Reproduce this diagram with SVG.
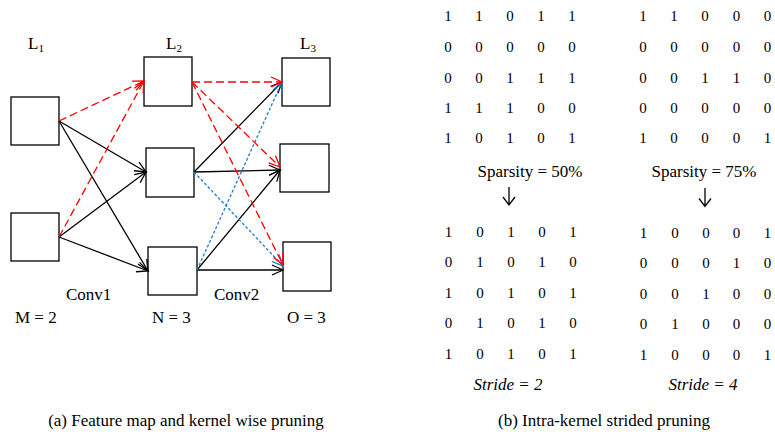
<svg xmlns="http://www.w3.org/2000/svg" width="775" height="435" viewBox="0 0 775 435" font-family="'Liberation Serif', 'DejaVu Serif', serif">
  <style>
    text { font-family: 'Liberation Serif', 'DejaVu Serif', serif; fill: #000; }
    .lbl { font-size: 17px; }
    .sub { font-size: 11px; }
    .num { font-size: 15px; text-anchor: middle; }
    .cap { font-size: 17px; text-anchor: middle; }
    .it { font-size: 17px; font-style: italic; text-anchor: middle; }
    .box { fill: #fff; stroke: #000; stroke-width: 1.3; }
    .solid { stroke: #000; stroke-width: 1.3; fill: none; marker-end: url(#headK); }
    .red { stroke: #ff0000; stroke-width: 1.3; fill: none; stroke-dasharray: 8 4; marker-end: url(#headR); }
    .blue { stroke: #1f7bd0; stroke-width: 1.3; fill: none; stroke-dasharray: 3 2; marker-end: url(#headB); }
    .down { stroke: #000; stroke-width: 1.3; fill: none; }
  </style>
  <defs>
    <marker id="headK" markerUnits="userSpaceOnUse" markerWidth="14" markerHeight="14" viewBox="-12 -7 14 14" refX="0" refY="0" orient="auto">
      <path d="M-11,-5 L0,0 L-11,5" fill="none" stroke="#000" stroke-width="1.3"/>
    </marker>
    <marker id="headR" markerUnits="userSpaceOnUse" markerWidth="14" markerHeight="14" viewBox="-12 -7 14 14" refX="0" refY="0" orient="auto">
      <path d="M-11,-5 L0,0 L-11,5" fill="none" stroke="#ff0000" stroke-width="1.3"/>
    </marker>
    <marker id="headB" markerUnits="userSpaceOnUse" markerWidth="14" markerHeight="14" viewBox="-12 -7 14 14" refX="0" refY="0" orient="auto">
      <path d="M-11,-5 L0,0 L-11,5" fill="none" stroke="#1f7bd0" stroke-width="1.3"/>
    </marker>
  </defs>

  <rect width="775" height="435" fill="#fff"/>

  <!-- layer labels -->
  <text class="lbl" x="28" y="49">L<tspan class="sub" dy="3">1</tspan></text>
  <text class="lbl" x="166" y="49">L<tspan class="sub" dy="3">2</tspan></text>
  <text class="lbl" x="300" y="49">L<tspan class="sub" dy="3">3</tspan></text>

  <!-- feature map nodes -->
  <g id="l1a"><rect class="box" x="11" y="97" width="48" height="48"/></g>
  <g id="l1b"><rect class="box" x="11" y="213" width="48" height="48"/></g>
  <g id="l2a"><rect class="box" x="144" y="57" width="48" height="49"/></g>
  <g id="l2b"><rect class="box" x="146" y="148" width="48" height="49"/></g>
  <g id="l2c"><rect class="box" x="148" y="247" width="49" height="48"/></g>
  <g id="l3a"><rect class="box" x="282" y="58" width="48" height="48"/></g>
  <g id="l3b"><rect class="box" x="280" y="144" width="49" height="48"/></g>
  <g id="l3c"><rect class="box" x="283" y="242" width="48" height="49"/></g>

  <!-- kernel connections -->
  <g id="connectors">
    <!-- Conv1 -->
    <line class="solid" x1="59" y1="121" x2="146" y2="172"/>
    <line class="solid" x1="59" y1="121" x2="148" y2="271"/>
    <line class="solid" x1="59" y1="237" x2="146" y2="172"/>
    <line class="solid" x1="59" y1="237" x2="148" y2="271"/>
    <line class="red" x1="59" y1="121" x2="144" y2="81"/>
    <line class="red" x1="59" y1="237" x2="144" y2="81"/>
    <!-- Conv2 -->
    <line class="solid" x1="194" y1="172" x2="282" y2="82"/>
    <line class="solid" x1="194" y1="172" x2="280" y2="170"/>
    <line class="solid" x1="197" y1="270" x2="280" y2="170"/>
    <line class="solid" x1="197" y1="270" x2="283" y2="270"/>
    <line class="blue" x1="194" y1="172" x2="283" y2="266"/>
    <line class="blue" x1="197" y1="270" x2="282" y2="82"/>
    <line class="red" x1="192" y1="82" x2="282" y2="82"/>
    <line class="red" x1="192" y1="82" x2="280" y2="167"/>
    <line class="red" x1="192" y1="82" x2="283" y2="265"/>
  </g>

  <text class="lbl" x="66" y="300">Conv1</text>
  <text class="lbl" x="214" y="300">Conv2</text>
  <text class="lbl" x="15" y="323">M = 2</text>
  <text class="lbl" x="152" y="323">N = 3</text>
  <text class="lbl" x="287" y="323">O = 3</text>

  <!-- weight matrices, sparsity 50% -->
  <g id="m50" class="num">
    <text x="448" y="21">1</text><text x="479" y="21">1</text><text x="510" y="21">0</text><text x="541" y="21">1</text><text x="572" y="21">1</text>
    <text x="448" y="51.5">0</text><text x="479" y="51.5">0</text><text x="510" y="51.5">0</text><text x="541" y="51.5">0</text><text x="572" y="51.5">0</text>
    <text x="448" y="82.5">0</text><text x="479" y="82.5">0</text><text x="510" y="82.5">1</text><text x="541" y="82.5">1</text><text x="572" y="82.5">1</text>
    <text x="448" y="112.5">1</text><text x="479" y="112.5">1</text><text x="510" y="112.5">1</text><text x="541" y="112.5">0</text><text x="572" y="112.5">0</text>
    <text x="448" y="143">1</text><text x="479" y="143">0</text><text x="510" y="143">1</text><text x="541" y="143">0</text><text x="572" y="143">1</text>
  </g>
  <g id="m75" class="num">
    <text x="643" y="21">1</text><text x="674" y="21">1</text><text x="705" y="21">0</text><text x="736.5" y="21">0</text><text x="767.5" y="21">0</text>
    <text x="643" y="51.5">0</text><text x="674" y="51.5">0</text><text x="705" y="51.5">0</text><text x="736.5" y="51.5">0</text><text x="767.5" y="51.5">0</text>
    <text x="643" y="82.5">0</text><text x="674" y="82.5">0</text><text x="705" y="82.5">1</text><text x="736.5" y="82.5">1</text><text x="767.5" y="82.5">0</text>
    <text x="643" y="112.5">0</text><text x="674" y="112.5">0</text><text x="705" y="112.5">0</text><text x="736.5" y="112.5">0</text><text x="767.5" y="112.5">0</text>
    <text x="643" y="143">1</text><text x="674" y="143">0</text><text x="705" y="143">0</text><text x="736.5" y="143">0</text><text x="767.5" y="143">1</text>
  </g>

  <text class="lbl" x="530" y="177" text-anchor="middle">Sparsity = 50%</text>
  <text class="lbl" x="704" y="177" text-anchor="middle">Sparsity = 75%</text>

  <!-- down arrows -->
  <path class="down" d="M509,187 V205 M503,197 L509,205 L515,197"/>
  <path class="down" d="M705,188 V206.5 M699,198.5 L705,206.5 L711,198.5"/>

  <!-- strided matrices -->
  <g id="s2" class="num">
    <text x="448.5" y="236.5">1</text><text x="480" y="236.5">0</text><text x="511" y="236.5">1</text><text x="542" y="236.5">0</text><text x="573" y="236.5">1</text>
    <text x="448.5" y="267">0</text><text x="480" y="267">1</text><text x="511" y="267">0</text><text x="542" y="267">1</text><text x="573" y="267">0</text>
    <text x="448.5" y="297.5">1</text><text x="480" y="297.5">0</text><text x="511" y="297.5">1</text><text x="542" y="297.5">0</text><text x="573" y="297.5">1</text>
    <text x="448.5" y="328">0</text><text x="480" y="328">1</text><text x="511" y="328">0</text><text x="542" y="328">1</text><text x="573" y="328">0</text>
    <text x="448.5" y="358.5">1</text><text x="480" y="358.5">0</text><text x="511" y="358.5">1</text><text x="542" y="358.5">0</text><text x="573" y="358.5">1</text>
  </g>
  <g id="s4" class="num">
    <text x="643.5" y="237.5">1</text><text x="675" y="237.5">0</text><text x="706" y="237.5">0</text><text x="736.5" y="237.5">0</text><text x="767.5" y="237.5">1</text>
    <text x="643.5" y="268">0</text><text x="675" y="268">0</text><text x="706" y="268">0</text><text x="736.5" y="268">1</text><text x="767.5" y="268">0</text>
    <text x="643.5" y="298.5">0</text><text x="675" y="298.5">0</text><text x="706" y="298.5">1</text><text x="736.5" y="298.5">0</text><text x="767.5" y="298.5">0</text>
    <text x="643.5" y="329">0</text><text x="675" y="329">1</text><text x="706" y="329">0</text><text x="736.5" y="329">0</text><text x="767.5" y="329">0</text>
    <text x="643.5" y="360">1</text><text x="675" y="360">0</text><text x="706" y="360">0</text><text x="736.5" y="360">0</text><text x="767.5" y="360">1</text>
  </g>

  <text class="it" x="508" y="390">Stride = 2</text>
  <text class="it" x="703" y="390">Stride = 4</text>

  <!-- captions -->
  <text class="cap" x="186" y="426">(a) Feature map and kernel wise pruning</text>
  <text class="cap" x="604" y="426">(b) Intra-kernel strided pruning</text>
</svg>
